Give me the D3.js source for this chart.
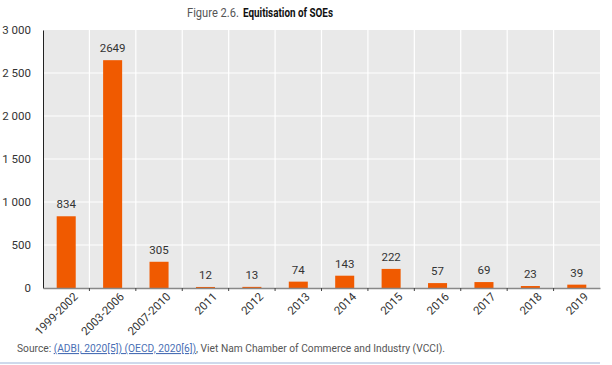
<!DOCTYPE html>
<html>
<head>
<meta charset="utf-8">
<script src="https://cdn.jsdelivr.net/npm/d3@7"></script>
<style>
  body { margin: 0; background: #fff; }
  svg { display: block; font-family: "Roboto", sans-serif; }
</style>
</head>
<body>
<div id="chart"></div>
<script>
const categories = ['1999-2002', '2003-2006', '2007-2010', '2011', '2012', '2013', '2014', '2015', '2016', '2017', '2018', '2019'];
const soesEquitised = [834, 2649, 305, 12, 13, 74, 143, 222, 57, 69, 23, 39];
const yTicks = [0, 500, 1000, 1500, 2000, 2500, 3000];

const width = 612, height = 365;
const margin = { top: 30, right: 12, bottom: 77, left: 43 };

const svg = d3.select('#chart').append('svg')
    .attr('width', width)
    .attr('height', height);

const x = d3.scaleBand()
    .domain(categories)
    .range([margin.left, width - margin.right])
    .paddingInner(0.59)
    .paddingOuter(0.295);

const y = d3.scaleLinear()
    .domain([0, 3000])
    .range([height - margin.bottom, margin.top]);

const fmt = d => d3.format(',')(d).replace(/,/g, ' ');
const step = x.step();
const boundary = d => x(d) - step * 0.59 / 2;

// title (two parts, each squeezed to the reference's condensed width)
svg.append('text')
    .attr('x', 187)
    .attr('y', 17)
    .attr('font-size', '12.5px')
    .attr('fill', '#555')
    .attr('textLength', 52)
    .attr('lengthAdjust', 'spacingAndGlyphs')
    .text('Figure 2.6.');
svg.append('text')
    .attr('x', 243)
    .attr('y', 17)
    .attr('font-size', '12.5px')
    .attr('font-weight', 'bold')
    .attr('fill', '#111')
    .attr('textLength', 90)
    .attr('lengthAdjust', 'spacingAndGlyphs')
    .text('Equitisation of SOEs');

// plot background
svg.append('rect')
    .attr('x', margin.left)
    .attr('y', margin.top)
    .attr('width', width - margin.right - margin.left)
    .attr('height', height - margin.bottom - margin.top)
    .attr('fill', '#e9e9e9');

// grid
svg.append('g')
    .selectAll('line')
    .data(yTicks.slice(1, -1))
    .enter().append('line')
    .attr('x1', margin.left)
    .attr('x2', width - margin.right)
    .attr('y1', d => y(d))
    .attr('y2', d => y(d))
    .attr('stroke', '#fff')
    .attr('stroke-width', 1.2);

svg.append('g')
    .selectAll('line')
    .data(categories.slice(1))
    .enter().append('line')
    .attr('x1', boundary)
    .attr('x2', boundary)
    .attr('y1', margin.top)
    .attr('y2', height - margin.bottom)
    .attr('stroke', '#fff')
    .attr('stroke-width', 1.2);

// bars
svg.append('g')
    .selectAll('rect')
    .data(soesEquitised)
    .enter().append('rect')
    .attr('x', (d, i) => x(categories[i]))
    .attr('y', d => y(d))
    .attr('width', x.bandwidth())
    .attr('height', d => y(0) - y(d))
    .attr('fill', '#f05a00');

// value labels
svg.append('g')
    .selectAll('text')
    .data(soesEquitised)
    .enter().append('text')
    .attr('x', (d, i) => x(categories[i]) + x.bandwidth() / 2)
    .attr('y', d => y(d) - 8)
    .attr('text-anchor', 'middle')
    .attr('font-size', '11.5px')
    .attr('fill', '#333')
    .text(d => d);

// y axis
const yAxis = svg.append('g')
    .attr('transform', `translate(${margin.left},0)`)
    .call(d3.axisLeft(y).tickValues(yTicks).tickFormat(fmt).tickSize(0).tickPadding(12));
yAxis.select('.domain').attr('stroke', '#222');
yAxis.selectAll('text').attr('font-size', '11.5px').attr('fill', '#333')
    .attr('font-family', 'Roboto, sans-serif');

// x axis
const xAxis = svg.append('g')
    .attr('transform', `translate(0,${y(0)})`)
    .call(d3.axisBottom(x).tickSize(0).tickPadding(6));
xAxis.select('.domain').attr('stroke', '#888').attr('stroke-width', 1.5);
xAxis.selectAll('text')
    .attr('font-size', '11.5px')
    .attr('fill', '#333')
    .attr('font-family', 'Roboto, sans-serif')
    .attr('text-anchor', 'end')
    .attr('dy', '0.5em')
    .attr('transform', 'translate(4,1) rotate(-45)');

// boundary ticks on x axis
svg.append('g')
    .selectAll('line')
    .data(categories.slice(1))
    .enter().append('line')
    .attr('x1', boundary)
    .attr('x2', boundary)
    .attr('y1', y(0))
    .attr('y2', y(0) + 3)
    .attr('stroke', '#444');

// source
const source = svg.append('text')
    .attr('x', 17)
    .attr('y', 352)
    .attr('font-size', '11px')
    .attr('fill', '#555')
    .attr('textLength', 428)
    .attr('lengthAdjust', 'spacingAndGlyphs');
source.append('tspan').text('Source: ');
source.append('tspan').attr('fill', '#4a6fb5').attr('text-decoration', 'underline').text('(ADBI, 2020[5]) (OECD, 2020[6])');
source.append('tspan').text(', Viet Nam Chamber of Commerce and Industry (VCCI).');

svg.append('line')
    .attr('x1', 0)
    .attr('x2', 600)
    .attr('y1', 363)
    .attr('y2', 363)
    .attr('stroke', '#9db4d8')
    .attr('stroke-width', 1);
</script>
</body>
</html>
